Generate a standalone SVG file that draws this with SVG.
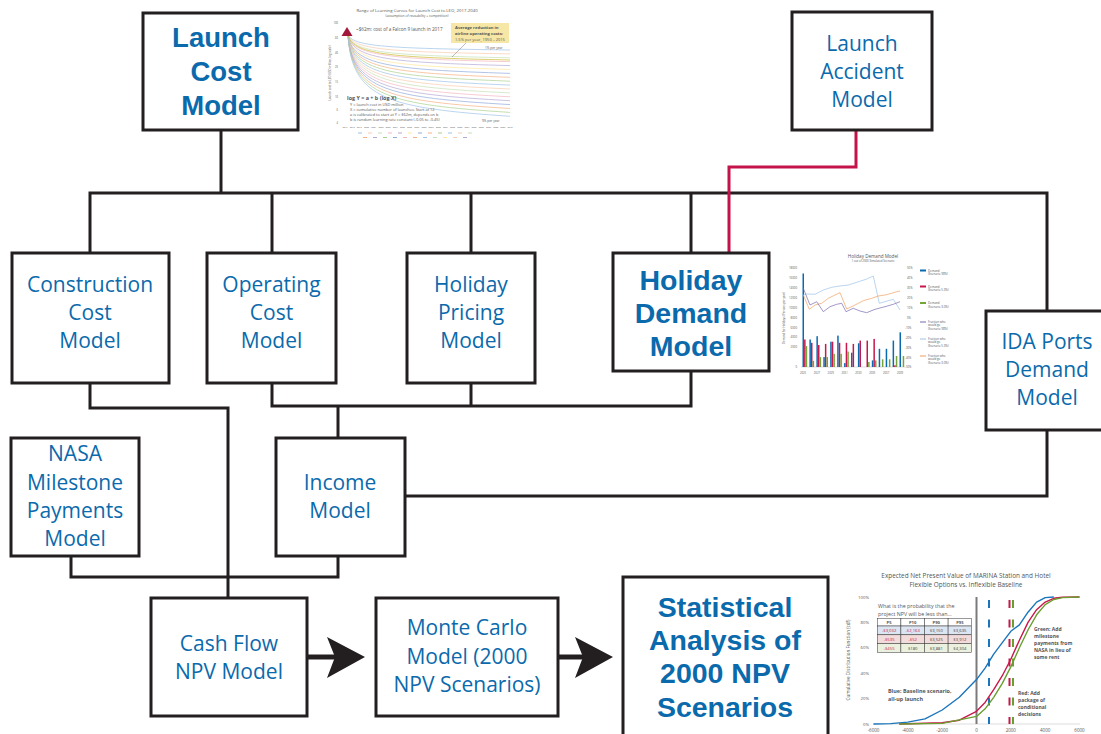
<svg xmlns="http://www.w3.org/2000/svg" width="1101" height="734" viewBox="0 0 1101 734">
<defs>
<style>
.box{fill:#fff;stroke:#231f20;stroke-width:3}
.wire{fill:none;stroke:#231f20;stroke-width:3}
.wire-red{fill:none;stroke:#c4124a;stroke-width:3}
.head{fill:#231f20}
.lbl{font-family:"Open Sans","Noto Sans",sans-serif;font-size:21px;fill:#0b6aac;text-anchor:middle}
.lblb{font-family:"Liberation Sans",Arial,sans-serif;font-size:28.5px;font-weight:700;fill:#0b6aac;text-anchor:middle}
.ct{font-family:"Open Sans","Noto Sans",sans-serif;fill:#555}
.mid{text-anchor:middle}
.end{text-anchor:end}
.lc path{fill:none;stroke-width:0.7}
.bl{fill:#0a6ab0}.rd{fill:#c8174a}.gr{fill:#76a33a}
.cdf{fill:none;stroke-width:1.4;stroke-linejoin:round}
.dash{stroke-width:2;stroke-dasharray:8 11.5}
.cell{stroke:#333;stroke-width:0.5}
</style>
</defs>

<!-- wiring between the models -->
<g id="connectors">
  <path class="wire" d="M221,130 V193"/>
  <path class="wire" d="M90,253 V193 H1047 V311"/>
  <path class="wire" d="M272,193 V253"/>
  <path class="wire" d="M471,193 V253"/>
  <path class="wire" d="M691,193 V253"/>
  <path class="wire" d="M272,383 V406 H691 V371"/>
  <path class="wire" d="M471,383 V406"/>
  <path class="wire" d="M338,406 V438"/>
  <path class="wire" d="M90,383 V408 H228 V598"/>
  <path class="wire" d="M71,556 V577 H338 V556"/>
  <path class="wire" d="M405,496 H1047 V430"/>
  <path class="wire-red" d="M856,130 V167 H729 V253"/>
  <path class="wire" d="M307,657 H336" style="stroke-width:5"/>
  <polygon class="head" points="327,637 365,657 327,678 335,657"/>
  <path class="wire" d="M558,657 H584" style="stroke-width:5"/>
  <polygon class="head" points="575,637 613,657 575,678 583,657"/>
  <polygon class="head" points="10,490 22,496.5 10,503"/>
</g>

<g id="node-launch-cost">
  <rect class="box" x="143" y="13" width="155" height="117"/>
  <text class="lblb" x="221" y="47" style="font-size:27.5px">Launch</text>
  <text class="lblb" x="221" y="81" style="font-size:27.5px">Cost</text>
  <text class="lblb" x="221" y="115" style="font-size:27.5px">Model</text>
</g>

<g id="node-launch-accident">
  <rect class="box" x="792" y="12" width="140" height="118"/>
  <text class="lbl" x="862" y="51">Launch</text>
  <text class="lbl" x="862" y="79">Accident</text>
  <text class="lbl" x="862" y="107">Model</text>
</g>

<g id="node-construction-cost">
  <rect class="box" x="12" y="253" width="157" height="130"/>
  <text class="lbl" x="90" y="292">Construction</text>
  <text class="lbl" x="90" y="320">Cost</text>
  <text class="lbl" x="90" y="348">Model</text>
</g>

<g id="node-operating-cost">
  <rect class="box" x="207" y="253" width="129" height="130"/>
  <text class="lbl" x="271.5" y="292">Operating</text>
  <text class="lbl" x="271.5" y="320">Cost</text>
  <text class="lbl" x="271.5" y="348">Model</text>
</g>

<g id="node-holiday-pricing">
  <rect class="box" x="407" y="253" width="128" height="130"/>
  <text class="lbl" x="471" y="292">Holiday</text>
  <text class="lbl" x="471" y="320">Pricing</text>
  <text class="lbl" x="471" y="348">Model</text>
</g>

<g id="node-holiday-demand">
  <rect class="box" x="613" y="253" width="156" height="118"/>
  <text class="lblb" x="691" y="290">Holiday</text>
  <text class="lblb" x="691" y="323">Demand</text>
  <text class="lblb" x="691" y="356">Model</text>
</g>

<g id="node-ida-ports">
  <rect class="box" x="986" y="311" width="130" height="119"/>
  <text class="lbl" x="1047" y="349">IDA Ports</text>
  <text class="lbl" x="1047" y="377">Demand</text>
  <text class="lbl" x="1047" y="405">Model</text>
</g>

<g id="node-nasa-milestone">
  <rect class="box" x="11" y="438" width="128" height="118"/>
  <text class="lbl" x="75" y="461">NASA</text>
  <text class="lbl" x="75" y="490">Milestone</text>
  <text class="lbl" x="75" y="518">Payments</text>
  <text class="lbl" x="75" y="546">Model</text>
</g>

<g id="node-income">
  <rect class="box" x="276" y="438" width="129" height="118"/>
  <text class="lbl" x="340" y="490">Income</text>
  <text class="lbl" x="340" y="518">Model</text>
</g>

<g id="node-cash-flow">
  <rect class="box" x="151" y="598" width="156" height="118"/>
  <text class="lbl" x="229" y="651">Cash Flow</text>
  <text class="lbl" x="229" y="679">NPV Model</text>
</g>

<g id="node-monte-carlo">
  <rect class="box" x="376" y="598" width="182" height="118"/>
  <text class="lbl" x="467" y="635">Monte Carlo</text>
  <text class="lbl" x="467" y="664">Model (2000</text>
  <text class="lbl" x="467" y="692">NPV Scenarios)</text>
</g>

<g id="node-statistical-analysis">
  <rect class="box" x="623" y="577" width="205" height="170"/>
  <text class="lblb" x="725" y="617">Statistical</text>
  <text class="lblb" x="725" y="650">Analysis of</text>
  <text class="lblb" x="725" y="683">2000 NPV</text>
  <text class="lblb" x="725" y="717">Scenarios</text>
</g>

<!-- learning curves for launch cost -->
<g id="chart-learning-curves">
  <text class="ct mid" x="417" y="12" font-size="4.3" fill="#444">Range of Learning Curves for Launch Cost to LEO, 2017-2040</text>
  <text class="ct mid" x="417" y="17" font-size="3.3">(assumption of reusability + competition)</text>
  <g class="ct end" font-size="2.6">
    <text x="338" y="24">100</text><text x="338" y="39">60</text><text x="338" y="54">40</text>
    <text x="338" y="68">25</text><text x="338" y="83">15</text><text x="338" y="98">10</text>
    <text x="338" y="111">6</text><text x="338" y="124">4</text>
  </g>
  <text class="ct mid" font-size="2.8" transform="translate(331,73) rotate(-90)">Launch cost to LEO (USD million, log scale)</text>
  <g class="lc">
    <path stroke="#9dc3e6" d="M348,34 C351,46.8 390,48.4 510,50"/>
    <path stroke="#f8cbad" d="M348,34 C351,49.9 390,51.9 510,53.9"/>
    <path stroke="#c5e0b4" d="M348,34 C351,53 390,55.4 510,57.8"/>
    <path stroke="#f4b6c2" d="M348,34 C351,56.2 390,58.9 510,61.7"/>
    <path stroke="#b4a7d6" d="M348,34 C351,59.3 390,62.4 510,65.6"/>
    <path stroke="#ffe699" d="M348,34 C351,62.4 390,65.9 510,69.5"/>
    <path stroke="#8faadc" d="M348,34 C351,65.5 390,69.5 510,73.4"/>
    <path stroke="#f4b183" d="M348,34 C351,68.6 390,73 510,77.3"/>
    <path stroke="#a9d18e" d="M348,34 C351,71.8 390,76.5 510,81.2"/>
    <path stroke="#9dc3e6" d="M348,34 C351,74.9 390,80 510,85.1"/>
    <path stroke="#f8cbad" d="M348,34 C351,78 390,83.5 510,89"/>
    <path stroke="#c5e0b4" d="M348,34 C351,81.1 390,87 510,92.9"/>
    <path stroke="#f4b6c2" d="M348,34 C351,84.2 390,90.5 510,96.8"/>
    <path stroke="#b4a7d6" d="M348,34 C351,87.4 390,94 510,100.7"/>
    <path stroke="#8faadc" d="M348,34 C351,90.5 390,97.5 510,104.6"/>
    <path stroke="#f4b183" d="M348,34 C351,93.6 390,101.1 510,108.5"/>
    <path stroke="#a9d18e" d="M348,34 C351,96.7 390,104.6 510,112.4"/>
    <path stroke="#9dc3e6" d="M348,34 C351,99.8 390,108.1 510,116.3"/>
    <path stroke="#cdbb2e" stroke-width="2.2" d="M348,34 C351,54.8 390,57.4 510,60"/>
  </g>
  <polygon points="347,27 352.5,36 341.5,36" fill="#a3173a"/>
  <text class="ct" x="356" y="31" font-size="4.6" fill="#333">~$62m: cost of a Falcon 9 launch in 2017</text>
  <line x1="466" y1="43" x2="452" y2="57" stroke="#555" stroke-width="0.4"/>
  <rect x="451" y="23" width="58" height="20" fill="#f6e7a6"/>
  <text class="ct" x="455" y="29" font-size="4.2" font-weight="700" fill="#333">Average reduction in</text>
  <text class="ct" x="455" y="35" font-size="4.2" font-weight="700" fill="#333">airline operating costs:</text>
  <text class="ct" x="455" y="41" font-size="4" fill="#333">1.5% per year, 1950 – 2015</text>
  <text class="ct" x="485" y="49" font-size="3.2" fill="#333">1% per year</text>
  <text class="ct" x="482" y="122" font-size="3.2" fill="#333">9% per year</text>
  <text class="ct" x="347" y="100" font-size="5.4" font-weight="700" fill="#222">log Y = a + b (log X)</text>
  <g class="ct" font-size="3.9" fill="#333">
    <text x="350" y="105.5">Y = launch cost in USD million</text>
    <text x="350" y="110.5">X = cumulative number of launches. Start at 12</text>
    <text x="350" y="115.5">a is calibrated to start at Y = $62m, depends on b</text>
    <text x="350" y="120.5">b is random learning rate constant (-0.05 to -0.45)</text>
  </g>
  <g class="ct mid" font-size="2.2" fill="#888">
    <text x="345" y="128">2017</text><text x="352.2" y="128">2018</text><text x="359.3" y="128">2019</text>
    <text x="366.5" y="128">2020</text><text x="373.7" y="128">2021</text><text x="380.9" y="128">2022</text>
    <text x="388" y="128">2023</text><text x="395.2" y="128">2024</text><text x="402.4" y="128">2025</text>
    <text x="409.6" y="128">2026</text><text x="416.7" y="128">2027</text><text x="423.9" y="128">2028</text>
    <text x="431.1" y="128">2029</text><text x="438.3" y="128">2030</text><text x="445.4" y="128">2031</text>
    <text x="452.6" y="128">2032</text><text x="459.8" y="128">2033</text><text x="467" y="128">2034</text>
    <text x="474.1" y="128">2035</text><text x="481.3" y="128">2036</text><text x="488.5" y="128">2037</text>
    <text x="495.7" y="128">2038</text><text x="502.8" y="128">2039</text><text x="510" y="128">2040</text>
  </g>
  <g stroke-width="1">
    <line x1="358" y1="133" x2="362" y2="133" stroke="#9dc3e6"/><line x1="368" y1="133" x2="372" y2="133" stroke="#f8cbad"/>
    <line x1="378" y1="133" x2="382" y2="133" stroke="#c5e0b4"/><line x1="388" y1="133" x2="392" y2="133" stroke="#f4b6c2"/>
    <line x1="398" y1="133" x2="402" y2="133" stroke="#b4a7d6"/><line x1="408" y1="133" x2="412" y2="133" stroke="#ffe699"/>
    <line x1="418" y1="133" x2="422" y2="133" stroke="#8faadc"/><line x1="428" y1="133" x2="432" y2="133" stroke="#f4b183"/>
    <line x1="438" y1="133" x2="442" y2="133" stroke="#a9d18e"/><line x1="448" y1="133" x2="452" y2="133" stroke="#9dc3e6"/>
    <line x1="458" y1="133" x2="462" y2="133" stroke="#f8cbad"/><line x1="468" y1="133" x2="472" y2="133" stroke="#c5e0b4"/>
    <line x1="363" y1="137.5" x2="367" y2="137.5" stroke="#f4b183"/><line x1="373" y1="137.5" x2="377" y2="137.5" stroke="#b4a7d6"/>
    <line x1="383" y1="137.5" x2="387" y2="137.5" stroke="#a9d18e"/><line x1="393" y1="137.5" x2="397" y2="137.5" stroke="#8faadc"/>
    <line x1="403" y1="137.5" x2="407" y2="137.5" stroke="#f4b6c2"/><line x1="413" y1="137.5" x2="417" y2="137.5" stroke="#f4b183"/>
    <line x1="423" y1="137.5" x2="427" y2="137.5" stroke="#9dc3e6"/><line x1="433" y1="137.5" x2="437" y2="137.5" stroke="#c5e0b4"/>
    <line x1="443" y1="137.5" x2="447" y2="137.5" stroke="#ffe699"/><line x1="453" y1="137.5" x2="457" y2="137.5" stroke="#f8cbad"/>
    <line x1="463" y1="137.5" x2="467" y2="137.5" stroke="#b4a7d6"/>
  </g>
</g>

<!-- simulated holiday demand, one scenario -->
<g id="chart-holiday-demand">
  <text class="ct mid" x="873" y="257.5" font-size="4.6" fill="#333">Holiday Demand Model</text>
  <text class="ct mid" x="873" y="262" font-size="2.8">1 out of 2000 Simulated Scenario</text>
  <g class="ct end" font-size="2.8" fill="#666">
    <text x="797" y="269">18000</text><text x="797" y="279">16000</text><text x="797" y="289">14000</text>
    <text x="797" y="299">12000</text><text x="797" y="309">10000</text><text x="797" y="319">8000</text>
    <text x="797" y="329">6000</text><text x="797" y="338">4000</text><text x="797" y="348">2000</text>
    <text x="797" y="368">0</text>
  </g>
  <text class="ct mid" font-size="2.8" fill="#666" transform="translate(785,318) rotate(-90)">Demand for Holidays (Persons per year)</text>
  <g class="ct" font-size="2.8" fill="#666">
    <text x="907" y="269">50%</text><text x="907" y="279">40%</text><text x="907" y="289">30%</text>
    <text x="907" y="299">20%</text><text x="907" y="309">10%</text><text x="907" y="319">0%</text>
    <text x="905" y="329">-10%</text><text x="905" y="339">-20%</text><text x="905" y="349">-30%</text>
    <text x="905" y="359">-40%</text><text x="905" y="368">-50%</text>
  </g>
  <line x1="801" y1="367" x2="905" y2="367" stroke="#aaa" stroke-width="0.4"/>
  <g class="bl">
    <rect x="802.5" y="273.5" width="1.5" height="93.5"/><rect x="809.4" y="339.5" width="1.5" height="27.5"/>
    <rect x="816.4" y="336.2" width="1.5" height="30.8"/><rect x="823.3" y="357.1" width="1.5" height="9.9"/>
    <rect x="830.2" y="341.7" width="1.5" height="25.3"/><rect x="837.2" y="335.6" width="1.5" height="31.4"/>
    <rect x="844.1" y="363.1" width="1.5" height="3.9"/><rect x="851" y="352.7" width="1.5" height="14.3"/>
    <rect x="857.9" y="343.3" width="1.5" height="23.7"/><rect x="871.8" y="360.4" width="1.5" height="6.6"/>
    <rect x="878.7" y="348.8" width="1.5" height="18.2"/><rect x="885.7" y="348.8" width="1.5" height="18.2"/>
    <rect x="892.6" y="340.6" width="1.5" height="26.4"/><rect x="899.5" y="332.3" width="1.5" height="34.7"/>
  </g>
  <g class="rd">
    <rect x="804.1" y="339.5" width="1.5" height="27.5"/><rect x="811" y="342.8" width="1.5" height="24.2"/>
    <rect x="818" y="345" width="1.5" height="22"/><rect x="824.9" y="343.9" width="1.5" height="23.1"/>
    <rect x="831.8" y="341.7" width="1.5" height="25.3"/><rect x="838.8" y="342.8" width="1.5" height="24.2"/>
    <rect x="845.7" y="342.8" width="1.5" height="24.2"/><rect x="852.6" y="343.9" width="1.5" height="23.1"/>
    <rect x="859.5" y="340.6" width="1.5" height="26.4"/><rect x="866.5" y="340.6" width="1.5" height="26.4"/>
    <rect x="873.4" y="338.9" width="1.5" height="28.1"/><rect x="894.2" y="365.3" width="1.5" height="1.7"/>
  </g>
  <g class="gr">
    <rect x="805.7" y="346.1" width="1.5" height="20.9"/><rect x="812.6" y="360.9" width="1.5" height="6.1"/>
    <rect x="819.6" y="357.1" width="1.5" height="9.9"/><rect x="826.5" y="357.1" width="1.5" height="9.9"/>
    <rect x="833.4" y="353.8" width="1.5" height="13.2"/><rect x="840.4" y="353.8" width="1.5" height="13.2"/>
    <rect x="847.3" y="351.6" width="1.5" height="15.4"/><rect x="868.1" y="362" width="1.5" height="5"/>
    <rect x="875" y="360.4" width="1.5" height="6.6"/><rect x="881.9" y="359.3" width="1.5" height="7.7"/>
    <rect x="888.9" y="359.3" width="1.5" height="7.7"/><rect x="895.8" y="356" width="1.5" height="11"/>
    <rect x="902.7" y="356" width="1.5" height="11"/>
  </g>
  <g fill="none" stroke-width="0.7" stroke-linejoin="round">
    <polyline stroke="#9dc3e6" points="803.3,295 806.7,294 815,294.3 823.3,290 831.7,287.3 840,286 848.3,285 856.7,282.3 866,279.3 873.3,276 879.3,303.3 888.3,300.7 893.3,299.3 900,310"/>
    <polyline stroke="#f0a060" points="803.3,295 809.3,309.3 815,305 821.7,303.3 828.3,298.3 835,295 840,292.7 846.7,309 855,305 863.3,300.7 871.7,298.3 878.3,296 885,295 891.7,293.3 896.7,291.7 900,291"/>
    <polyline stroke="#7a6bb0" points="803.3,288.3 810,305 816.7,301.7 823.3,311.7 830,306.7 836.7,304.3 841.7,303.3 846,311.7 853.3,308.3 860,311 866.7,312.7 875,309.3 885,306.7 893.3,304.3 900,301.7"/>
  </g>
  <g class="ct" font-size="2.9" fill="#666">
    <rect x="920" y="269.5" width="6" height="2" fill="#0a6ab0"/>
    <text x="928" y="271.5">Demand</text><text x="928" y="275">(Scenario 98%)</text>
    <rect x="920" y="285.5" width="6" height="2" fill="#c8174a"/>
    <text x="928" y="287.5">Demand</text><text x="928" y="291">(Scenario 5.3%)</text>
    <rect x="920" y="302" width="6" height="2" fill="#76a33a"/>
    <text x="928" y="304">Demand</text><text x="928" y="307.5">(Scenario 3.0%)</text>
    <rect x="920" y="321.5" width="6" height="1" fill="#7a6bb0"/>
    <text x="928" y="323">Fraction who</text><text x="928" y="326.3">would go</text><text x="928" y="329.6">(Scenario 98%)</text>
    <rect x="920" y="338.5" width="6" height="1" fill="#9dc3e6"/>
    <text x="928" y="340">Fraction who</text><text x="928" y="343.3">would go</text><text x="928" y="346.6">(Scenario 5.3%)</text>
    <rect x="920" y="355.5" width="6" height="1" fill="#f0a060"/>
    <text x="928" y="357">Fraction who</text><text x="928" y="360.3">would go</text><text x="928" y="363.6">(Scenario 3.0%)</text>
  </g>
  <g class="ct mid" font-size="2.7" fill="#666">
    <text x="803" y="374">2025</text><text x="816.9" y="374">2027</text><text x="830.7" y="374">2029</text>
    <text x="844.6" y="374">2031</text><text x="858.4" y="374">2033</text><text x="872.3" y="374">2035</text>
    <text x="886.1" y="374">2037</text><text x="900" y="374">2039</text>
  </g>
</g>

<!-- NPV distribution: flexible options vs inflexible baseline -->
<g id="chart-npv-cdf">
  <text class="ct mid" x="966" y="578" font-size="6.4" fill="#666">Expected Net Present Value of MARINA Station and Hotel</text>
  <text class="ct mid" x="966" y="587" font-size="6.4" fill="#666">Flexible Options vs. Inflexible Baseline</text>
  <g class="ct end" font-size="4.3" fill="#777">
    <text x="869" y="598.5">100%</text><text x="869" y="624">80%</text><text x="869" y="649.4">60%</text>
    <text x="869" y="674.8">40%</text><text x="869" y="700.2">20%</text><text x="869" y="725.6">0%</text>
  </g>
  <text class="ct mid" font-size="4.6" fill="#777" transform="translate(850,660) rotate(-90)">Cumulative Distribution Function (cdf)</text>
  <g class="ct mid" font-size="4.5" fill="#666">
    <text x="873.5" y="732">-6000</text><text x="907.8" y="732">-4000</text><text x="942.2" y="732">-2000</text>
    <text x="976.5" y="732">0</text><text x="1010.8" y="732">2000</text><text x="1045.2" y="732">4000</text>
    <text x="1079.5" y="732">6000</text>
  </g>
  <line x1="873" y1="724" x2="1080" y2="724" stroke="#bbb" stroke-width="0.5"/>
  <line x1="976.5" y1="597" x2="976.5" y2="724" stroke="#7a7a7a" stroke-width="2"/>
  <line class="dash" x1="989" y1="600" x2="989" y2="724" stroke="#1a75bc"/>
  <line class="dash" x1="1009.5" y1="600" x2="1009.5" y2="724" stroke="#c8174a"/>
  <line class="dash" x1="1013" y1="600" x2="1013" y2="724" stroke="#6a9e2f"/>
  <polyline class="cdf" stroke="#1a75bc" points="873.5,724 890.7,723.6 907.8,722.1 925,718.9 942.2,710 959.3,697.3 976.5,679.6 985.1,668.1 993.7,654.2 1002.3,642.7 1010.8,631.3 1019.4,624.9 1028,612.2 1036.6,602.1 1045.2,597.6 1053.8,597"/>
  <polyline class="cdf" stroke="#c8174a" points="899.2,724 942.2,722.7 959.3,720.2 976.5,711.3 985.1,702.4 993.7,689.7 1002.3,675.7 1010.8,659.2 1019.4,640.2 1028,622.4 1036.6,609.7 1045.2,602.1 1053.8,598.3 1062.4,597.3 1079.5,597"/>
  <polyline class="cdf" stroke="#6a9e2f" points="899.2,724 942.2,723.4 976.5,716.4 985.1,708.8 993.7,697.3 1002.3,683.4 1010.8,666.9 1019.4,647.8 1028,630 1036.6,614.8 1045.2,604.6 1053.8,599.5 1062.4,597.6 1079.5,597"/>
  <text class="ct" x="878" y="608" font-size="5.3" fill="#333">What is the probability that the</text>
  <text class="ct" x="878" y="616" font-size="5.3" fill="#333">project NPV will be less than...</text>
  <rect class="cell" x="877.3" y="618.3" width="23.6" height="7.7" fill="#fff"/>
  <rect class="cell" x="900.9" y="618.3" width="23.6" height="7.7" fill="#fff"/>
  <rect class="cell" x="924.5" y="618.3" width="23.6" height="7.7" fill="#fff"/>
  <rect class="cell" x="948.1" y="618.3" width="23.6" height="7.7" fill="#fff"/>
  <rect class="cell" x="877.3" y="626" width="23.6" height="8.8" fill="#dce6f2"/>
  <rect class="cell" x="900.9" y="626" width="23.6" height="8.8" fill="#dce6f2"/>
  <rect class="cell" x="924.5" y="626" width="23.6" height="8.8" fill="#dce6f2"/>
  <rect class="cell" x="948.1" y="626" width="23.6" height="8.8" fill="#dce6f2"/>
  <rect class="cell" x="877.3" y="634.8" width="23.6" height="8.8" fill="#f2dcdb"/>
  <rect class="cell" x="900.9" y="634.8" width="23.6" height="8.8" fill="#f2dcdb"/>
  <rect class="cell" x="924.5" y="634.8" width="23.6" height="8.8" fill="#f2dcdb"/>
  <rect class="cell" x="948.1" y="634.8" width="23.6" height="8.8" fill="#f2dcdb"/>
  <rect class="cell" x="877.3" y="643.6" width="23.6" height="8.8" fill="#ebf1de"/>
  <rect class="cell" x="900.9" y="643.6" width="23.6" height="8.8" fill="#ebf1de"/>
  <rect class="cell" x="924.5" y="643.6" width="23.6" height="8.8" fill="#ebf1de"/>
  <rect class="cell" x="948.1" y="643.6" width="23.6" height="8.8" fill="#ebf1de"/>
  <g class="ct mid" font-size="4.2" font-weight="700" fill="#222">
    <text x="889.1" y="624">P5</text><text x="912.7" y="624">P10</text>
    <text x="936.3" y="624">P90</text><text x="959.9" y="624">P95</text>
  </g>
  <g class="ct mid" font-size="4.2">
    <text x="889.1" y="632" fill="#c8174a">-$3,032</text><text x="912.7" y="632" fill="#c8174a">-$2,163</text>
    <text x="936.3" y="632" fill="#444">$3,150</text><text x="959.9" y="632" fill="#444">$3,635</text>
    <text x="889.1" y="640.8" fill="#c8174a">-$535</text><text x="912.7" y="640.8" fill="#c8174a">-$52</text>
    <text x="936.3" y="640.8" fill="#444">$3,525</text><text x="959.9" y="640.8" fill="#444">$3,912</text>
    <text x="889.1" y="649.6" fill="#c8174a">-$455</text><text x="912.7" y="649.6" fill="#444">$180</text>
    <text x="936.3" y="649.6" fill="#444">$3,881</text><text x="959.9" y="649.6" fill="#444">$4,304</text>
  </g>
  <g class="ct" font-size="5.4" font-weight="700" fill="#1a75bc">
    <text x="888" y="693">Blue: Baseline scenario,</text>
    <text x="888" y="701">all-up launch</text>
  </g>
  <g class="ct" font-size="5" font-weight="700" fill="#6a9e2f">
    <text x="1034" y="631">Green: Add</text>
    <text x="1034" y="638">milestone</text>
    <text x="1034" y="645">payments from</text>
    <text x="1034" y="652">NASA in lieu of</text>
    <text x="1034" y="659">some rent</text>
  </g>
  <g class="ct" font-size="5" font-weight="700" fill="#c8174a">
    <text x="1018" y="695">Red: Add</text>
    <text x="1018" y="702">package of</text>
    <text x="1018" y="709">conditional</text>
    <text x="1018" y="716">decisions</text>
  </g>
</g>
</svg>
